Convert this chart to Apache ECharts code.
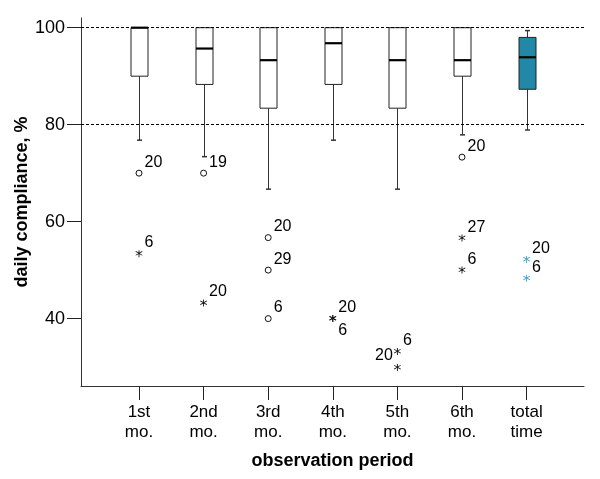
<!DOCTYPE html>
<html>
<head>
<meta charset="utf-8">
<script src="https://cdn.jsdelivr.net/npm/echarts@6/dist/echarts.min.js"></script>
<style>html,body{margin:0;padding:0;background:#fff;}#chart{width:600px;height:479px;}</style>
</head>
<body>
<div id="chart"></div>
<script>
// ---- data ----
const categories = ['1st\nmo.', '2nd\nmo.', '3rd\nmo.', '4th\nmo.', '5th\nmo.', '6th\nmo.', 'total\ntime'];
const whiskerLow  = [76.8, 73.4, 66.7, 76.8, 66.7, 77.9, 78.9];
const quartile1   = [90.0, 88.3, 83.4, 88.3, 83.4, 90.0, 87.3];
const medians     = [100.0, 95.7, 93.3, 96.8, 93.3, 93.3, 93.9];
const quartile3   = [100.0, 100.0, 100.0, 100.0, 100.0, 100.0, 98.0];
const whiskerHigh = [100.0, 100.0, 100.0, 100.0, 100.0, 100.0, 99.4];
// outliers: [category index, value, case id]
const mildOutliers = [[0, 70.0, '20'], [1, 70.0, '19'], [2, 56.7, '20'], [2, 50.0, '29'], [2, 40.0, '6'], [5, 73.3, '20']];
const extremeOutliers = [[0, 53.4, '6'], [1, 43.2, '20'], [3, 40.0, '20'], [3, 40.0, '6'], [4, 33.2, '6'], [4, 29.9, '20'],
                         [5, 56.6, '27'], [5, 50.0, '6'], [6, 52.2, '20'], [6, 48.3, '6']];
const yTicks = [40, 60, 80, 100];
const refLines = [100, 80];
const highlightIndex = 6;

// ---- styles ----
const FONT = 'Liberation Sans, Arial, Helvetica, sans-serif';
const TEAL = '#2188a7';
const TEAL_STAR = '#3aa9c9';
const extremePlacement = ['tr', 'tr', 'tr', 'br', 'tr', 'lu', 'tr', 'tr', 'tr', 'tr'];
const STAR = 'path://M4.4,0 L5.6,0 L5.6,10 L4.4,10 Z M0.3,2.2 L0.9,1.2 L9.7,6.8 L9.1,7.8 Z M9.1,1.2 L9.7,2.2 L0.9,7.8 L0.3,6.8 Z';

function labelFor(p) {
  const base = {show: true, fontFamily: FONT, fontSize: 16, color: '#000', distance: 2};
  if (p === 'br') return Object.assign(base, {position: 'right', offset: [0, 12]});
  if (p === 'lu') return Object.assign(base, {position: 'left', distance: 1, offset: [0, -12]});
  return Object.assign(base, {position: 'right', offset: [0, -11]});
}

const boxData = categories.map((c, i) => [i, whiskerLow[i], quartile1[i], medians[i], quartile3[i], whiskerHigh[i]]);

const chart = echarts.init(document.getElementById('chart'), null, {renderer: 'canvas'});
const YMIN = 26.1, YMAX = 102;
const option = {
  animation: false,
  backgroundColor: '#fff',
  grid: [
    {left: 81, right: 16, top: 18, bottom: 93},
    {left: 106.7, width: 452.2, top: 18, bottom: 93}
  ],
  xAxis: [
    {type: 'value', gridIndex: 0, min: 0, max: 1,
     axisLine: {show: true, onZero: false, lineStyle: {color: '#333', width: 1}},
     axisTick: {show: false}, axisLabel: {show: false}, splitLine: {show: false},
     name: 'observation period', nameLocation: 'middle', nameGap: 66, nameMoveOverlap: false,
     nameTextStyle: {fontFamily: FONT, fontSize: 18, fontWeight: 'bold', color: '#000'}},
    {type: 'category', gridIndex: 1, data: categories,
     axisLine: {show: false},
     axisTick: {show: true, alignWithLabel: true, length: 14, lineStyle: {color: '#222'}},
     axisLabel: {fontFamily: FONT, fontSize: 17, lineHeight: 20, color: '#000', margin: 16, interval: 0},
     splitLine: {show: false}}
  ],
  yAxis: [
    {type: 'value', gridIndex: 0, min: YMIN, max: YMAX,
     axisLine: {show: true, onZero: false, lineStyle: {color: '#333', width: 1}},
     axisTick: {show: true, length: 14, customValues: yTicks, lineStyle: {color: '#222'}},
     axisLabel: {customValues: yTicks, fontFamily: FONT, fontSize: 18, color: '#000', margin: 16},
     splitLine: {show: false},
     name: 'daily compliance, %', nameLocation: 'middle', nameGap: 50, nameMoveOverlap: false,
     nameTextStyle: {fontFamily: FONT, fontSize: 18, fontWeight: 'bold', color: '#000'}},
    {type: 'value', gridIndex: 1, min: YMIN, max: YMAX, show: false}
  ],
  series: [
    {type: 'line', xAxisIndex: 0, yAxisIndex: 0, data: [], silent: true, z: 1,
     markLine: {silent: true, symbol: 'none', label: {show: false},
       lineStyle: {color: '#000', type: [3, 2], width: 1},
       data: refLines.map(v => ({yAxis: v}))}},
    {type: 'custom', xAxisIndex: 1, yAxisIndex: 1, data: boxData, z: 3,
     renderItem: function (params, api) {
       const i = api.value(0);
       const lo = api.coord([i, api.value(1)]);
       const q1 = api.coord([i, api.value(2)]);
       const md = api.coord([i, api.value(3)]);
       const q3 = api.coord([i, api.value(4)]);
       const hi = api.coord([i, api.value(5)]);
       const cx = Math.round(lo[0]) + 0.5;
       const w = 17;
       const fill = params.dataIndex === highlightIndex ? TEAL : '#fff';
       const stroke = '#222';
       const children = [
         {type: 'line', shape: {x1: cx, y1: lo[1], x2: cx, y2: q1[1]}, style: {stroke: '#333', lineWidth: 1}},
         {type: 'line', shape: {x1: cx - 2.5, y1: lo[1], x2: cx + 2.5, y2: lo[1]}, style: {stroke: '#333', lineWidth: 1.5}}
       ];
       if (hi[1] < q3[1] - 0.5) {
         children.push({type: 'line', shape: {x1: cx, y1: hi[1], x2: cx, y2: q3[1]}, style: {stroke: '#333', lineWidth: 1}});
         children.push({type: 'line', shape: {x1: cx - 2.5, y1: hi[1], x2: cx + 2.5, y2: hi[1]}, style: {stroke: '#333', lineWidth: 1.5}});
       }
       children.push({type: 'rect', shape: {x: cx - w / 2, y: q3[1], width: w, height: q1[1] - q3[1]},
                      style: {fill: fill, stroke: stroke, lineWidth: 1}});
       children.push({type: 'line', shape: {x1: cx - w / 2, y1: md[1], x2: cx + w / 2, y2: md[1]},
                      style: {stroke: '#000', lineWidth: 2.2}});
       return {type: 'group', children: children};
     }},
    {type: 'scatter', xAxisIndex: 1, yAxisIndex: 1, z: 4,
     symbol: 'circle', symbolSize: 6,
     itemStyle: {color: '#fff', borderColor: '#111', borderWidth: 1, opacity: 1},
     data: mildOutliers.map(o => ({value: [o[0], o[1]], label: Object.assign(labelFor('tr'), {formatter: o[2]})}))},
    {type: 'scatter', xAxisIndex: 1, yAxisIndex: 1, z: 4,
     symbol: STAR, symbolSize: 7,
     data: extremeOutliers.map((o, k) => ({value: [o[0], o[1]],
       itemStyle: {color: o[0] === highlightIndex ? TEAL_STAR : '#111', opacity: 1},
       label: Object.assign(labelFor(extremePlacement[k]), {formatter: o[2]})}))}
  ]
};
chart.setOption(option);
</script>
</body>
</html>
